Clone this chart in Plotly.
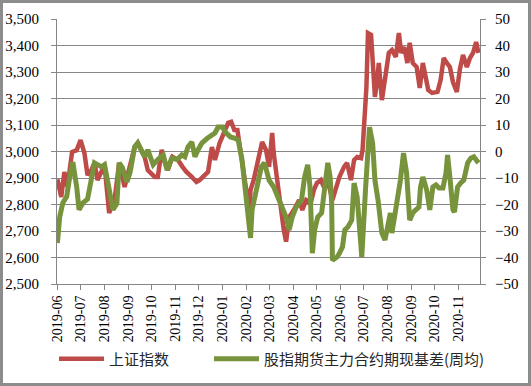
import plotly.graph_objects as go

# 上证指数 (left axis)
sh_dates = ["2019-06-01","2019-06-06","2019-06-10","2019-06-14","2019-06-20","2019-06-26","2019-07-01","2019-07-06",
            "2019-07-10","2019-07-15","2019-07-19","2019-07-23","2019-08-01","2019-08-07","2019-08-14","2019-08-20",
            "2019-08-27","2019-09-03","2019-09-09","2019-09-13","2019-09-22","2019-09-26","2019-10-05","2019-10-09",
            "2019-10-14","2019-10-18","2019-10-22","2019-10-28","2019-11-04","2019-11-10","2019-11-15","2019-11-22",
            "2019-11-28","2019-12-02","2019-12-06","2019-12-13","2019-12-18","2019-12-22","2019-12-28","2020-01-04",
            "2020-01-08","2020-01-12","2020-01-16","2020-01-20","2020-01-26","2020-02-01","2020-02-04","2020-02-06",
            "2020-02-10","2020-02-17","2020-02-21","2020-02-26","2020-03-01","2020-03-05","2020-03-07","2020-03-11",
            "2020-03-16","2020-03-20","2020-03-23","2020-03-27","2020-04-02","2020-04-09","2020-04-13","2020-04-18",
            "2020-04-24","2020-04-28","2020-05-02","2020-05-07","2020-05-11","2020-05-15","2020-05-22","2020-05-27",
            "2020-05-31","2020-06-06","2020-06-10","2020-06-15","2020-06-19","2020-06-23","2020-06-28","2020-06-30",
            "2020-07-05","2020-07-07","2020-07-11","2020-07-12","2020-07-16","2020-07-19","2020-07-21","2020-07-25",
            "2020-07-30","2020-08-03","2020-08-07","2020-08-12","2020-08-16","2020-08-19","2020-08-23","2020-08-27",
            "2020-08-30","2020-09-03","2020-09-08","2020-09-12","2020-09-16","2020-09-20","2020-09-23","2020-09-28",
            "2020-10-05","2020-10-09","2020-10-13","2020-10-17","2020-10-21","2020-10-25","2020-10-30","2020-11-03",
            "2020-11-07","2020-11-12","2020-11-16","2020-11-20","2020-11-24","2020-11-27"]
sh_values = [2895,2828,2923,2866,2998,3005,3043,2994,
             2911,2930,2957,2892,2949,2768,2817,2957,
             2866,2940,3017,3032,2979,2930,2904,2904,
             3006,2960,2930,2980,2968,2942,2923,2904,
             2885,2892,2904,2923,3017,2968,3032,3081,
             3108,3112,3081,3081,2968,2843,2750,2855,
             2892,2979,3036,3006,2942,3070,2994,2904,
             2779,2704,2660,2753,2779,2817,2779,2817,
             2806,2855,2881,2892,2866,2900,2817,2866,
             2904,2942,2957,2892,2968,2979,2975,3006,
             3243,3447,3440,3394,3206,3270,3334,3194,
             3296,3372,3383,3357,3447,3372,3394,3334,
             3410,3334,3319,3240,3334,3270,3232,3221,
             3225,3270,3353,3334,3319,3262,3225,3311,
             3364,3319,3353,3372,3413,3372]

# 股指期货主力合约期现基差(周均) (right axis)
basis_dates = ["2019-06-01","2019-06-04","2019-06-08","2019-06-13","2019-06-17","2019-06-21","2019-06-26","2019-06-29",
               "2019-07-04","2019-07-10","2019-07-19","2019-07-28","2019-08-01","2019-08-12","2019-08-17","2019-08-20",
               "2019-08-24","2019-08-30","2019-09-03","2019-09-09","2019-09-13","2019-09-18","2019-09-22","2019-09-26",
               "2019-10-03","2019-10-09","2019-10-16","2019-10-21","2019-10-27","2019-11-03","2019-11-09","2019-11-13",
               "2019-11-17","2019-11-22","2019-11-26","2019-11-30","2019-12-05","2019-12-12","2019-12-18","2019-12-22",
               "2019-12-26","2020-01-01","2020-01-04","2020-01-11","2020-01-17","2020-01-21","2020-01-26","2020-01-30",
               "2020-02-02","2020-02-06","2020-02-08","2020-02-14","2020-02-20","2020-02-24","2020-03-01","2020-03-07",
               "2020-03-14","2020-03-18","2020-03-23","2020-03-27","2020-03-31","2020-04-05","2020-04-12","2020-04-16",
               "2020-04-20","2020-04-23","2020-04-26","2020-04-29","2020-05-03","2020-05-08","2020-05-12","2020-05-16",
               "2020-05-19","2020-05-21","2020-05-22","2020-05-28","2020-05-31","2020-06-04","2020-06-07","2020-06-11",
               "2020-06-16","2020-06-19","2020-06-23","2020-06-26","2020-06-29","2020-07-04","2020-07-09","2020-07-13",
               "2020-07-16","2020-07-20","2020-07-25","2020-07-29","2020-08-02","2020-08-05","2020-08-07","2020-08-14",
               "2020-08-18","2020-08-22","2020-08-26","2020-08-30","2020-09-03","2020-09-07","2020-09-11","2020-09-13",
               "2020-09-16","2020-09-21","2020-09-25","2020-09-29","2020-10-03","2020-10-07","2020-10-12","2020-10-16",
               "2020-10-18","2020-10-21","2020-10-25","2020-10-27","2020-10-31","2020-11-04","2020-11-08","2020-11-13",
               "2020-11-17","2020-11-21","2020-11-25","2020-11-27"]
basis_values = [-34.5,-24.7,-19.4,-17,-9.6,-4,-13.4,-22,
                -19.4,-18,-4.3,-5.8,-5,-22,-19.6,-4.3,
                -6,-11.5,-8,1.7,3.2,0.6,-2,0.6,
                -5,-3,-1.3,-7,-2.5,-3,-1.3,-2,
                1.7,3.6,-2,0.6,3.2,5,6.2,7,
                9.2,9.2,7.4,5.5,5,4.3,-3.2,-13.4,
                -22,-32.6,-22,-14.5,-5.8,-4.3,-10.8,-13.4,
                -18.3,-22,-24.7,-29.6,-24.7,-21,-18.3,-9.6,
                -5,-13.4,-38.4,-29.6,-24.7,-23.2,-13.4,-4.3,
                -9.6,-19.4,-41,-39.8,-38.4,-36,-29.6,-28.5,
                -25.9,-11.9,-17.2,-30.8,-39.8,-13.4,9.2,3.2,
                -10.8,-18.3,-30.8,-33.4,-27,-23.2,-30.8,-19.4,
                -10.8,-0.6,-8.1,-25.9,-23.2,-22,-21,-13.4,
                -9.6,-14.5,-22,-13.4,-12.6,-13.8,-13.8,-8.1,
                -1.3,-9.6,-22,-22.8,-13.4,-11.9,-10.8,-4.3,
                -2.5,-2,-3.2,-4.3]

tick_labels = ["2019-06","2019-07","2019-08","2019-09","2019-10","2019-11","2019-12",
               "2020-01","2020-02","2020-03","2020-04","2020-05","2020-06","2020-07",
               "2020-08","2020-09","2020-10","2020-11"]
left_ticks = [2500,2600,2700,2800,2900,3000,3100,3200,3300,3400,3500]
right_ticks = [-50,-40,-30,-20,-10,0,10,20,30,40,50]

RED = "#BE4B48"
GREEN = "#77933C"
GRID = "#868686"
serif = "Liberation Serif, Times New Roman, serif"

fig = go.Figure()
fig.add_trace(go.Scatter(x=sh_dates, y=sh_values, name="上证指数", mode="lines",
                         line=dict(color=RED, width=4.5), yaxis="y", legend="legend"))
fig.add_trace(go.Scatter(x=basis_dates, y=basis_values, name="股指期货主力合约期现基差(周均)", mode="lines",
                         line=dict(color=GREEN, width=5), yaxis="y2", legend="legend2"))

W, H = 531, 386
L, R, T, B = 57, 51, 19, 102
pw, ph = W - L - R, H - T - B

leg_common = dict(orientation="h", xanchor="left", yanchor="middle", y=-(359 - 284) / ph,
                  font=dict(family="Noto Sans CJK SC", size=15, color="#262626"),
                  itemwidth=45, bgcolor="rgba(0,0,0,0)", borderwidth=0)

fig.update_layout(
    width=W, height=H,
    margin=dict(l=L, r=R, t=T, b=B, pad=0, autoexpand=False),
    paper_bgcolor="white", plot_bgcolor="white",
    showlegend=True,
    legend=dict(x=(54 - L) / pw, **leg_common),
    legend2=dict(x=(209 - L) / pw, **leg_common),
    xaxis=dict(type="date", range=["2019-05-31 12:00", "2020-11-29"],
               tickmode="array", tickvals=[t + "-01" for t in tick_labels], ticktext=tick_labels,
               tickangle=-90, tickfont=dict(family=serif, size=14, color="black"),
               showgrid=False, showline=True, linecolor=GRID, linewidth=1,
               ticks="outside", ticklen=5, tickcolor=GRID, zeroline=False, automargin=False),
    yaxis=dict(range=[2500, 3500], tickmode="array", tickvals=left_ticks,
               tickformat=",", tickfont=dict(family=serif, size=15, color="black"),
               showgrid=True, gridcolor=GRID, gridwidth=1,
               showline=True, linecolor=GRID, linewidth=1,
               ticks="outside", ticklen=5, tickcolor=GRID, ticklabelstandoff=9, zeroline=False,
               automargin=False),
    yaxis2=dict(range=[-50, 50], tickmode="array", tickvals=right_ticks,
                overlaying="y", side="right",
                tickfont=dict(family=serif, size=15, color="black"),
                showgrid=False, showline=True, linecolor=GRID, linewidth=1,
                ticks="outside", ticklen=5, tickcolor=GRID, ticklabelstandoff=6, zeroline=False,
                automargin=False),
    shapes=[dict(type="rect", xref="paper", yref="paper",
                 x0=-(L - 1.5) / pw, x1=1 + (R - 1.5) / pw,
                 y0=-(B - 1.5) / ph, y1=1 + (T - 1.5) / ph,
                 line=dict(color="#8C8C8C", width=3), fillcolor="rgba(0,0,0,0)", layer="above")],
)

fig.write_html("out.html", config={"displayModeBar": False},
               post_script="document.body.style.margin='0';document.body.style.overflow='hidden';")
